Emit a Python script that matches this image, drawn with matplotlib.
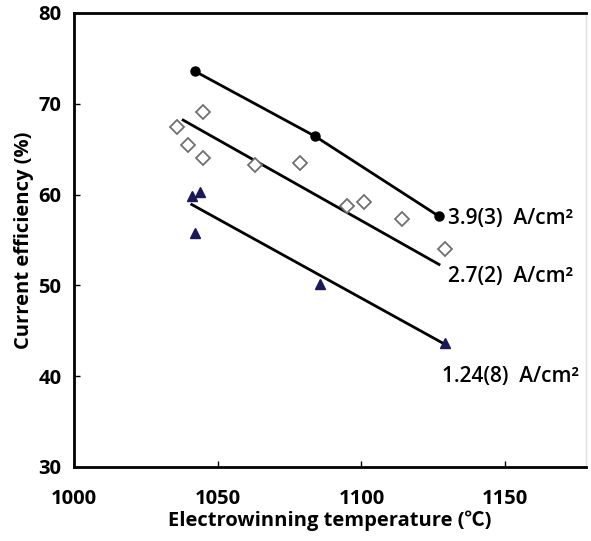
import numpy as np
import matplotlib.pyplot as plt

plt.rcParams['font.family'] = ['Open Sans', 'Noto Sans CJK KR', 'DejaVu Sans']

# 3.9(3) A/cm2 series (filled circles)
t_high = [1042, 1084, 1127]
ce_high = [73.6, 66.4, 57.6]

# 2.7(2) A/cm2 series (open diamonds)
t_mid = [1036, 1039.6, 1045, 1045, 1063, 1078.5, 1095, 1101, 1114, 1129]
ce_mid = [67.4, 65.5, 69.1, 64.0, 63.2, 63.5, 58.7, 59.2, 57.3, 54.0]
fit_mid_t = [1038, 1127]
fit_mid_ce = [68.2, 52.3]

# 1.24(8) A/cm2 series (filled triangles)
t_low = [1041, 1044, 1042, 1085.5, 1129]
ce_low = [59.8, 60.3, 55.8, 50.2, 43.6]
fit_low_t = [1041, 1128.5]
fit_low_ce = [58.9, 43.6]

labels = ['3.9(3)  A/cm²', '2.7(2)  A/cm²', '1.24(8)  A/cm²']
label_pos = [(1130, 57.4), (1130, 51.0), (1128, 40.0)]

fig = plt.figure(figsize=(5.91, 5.41), dpi=100)
ax = fig.add_axes([0.125, 0.137, 0.866, 0.839])

ax.plot(t_high, ce_high, color='black', lw=2, zorder=2)
ax.plot(t_high, ce_high, 'o', color='black', ms=6.5, zorder=3)

ax.plot(fit_mid_t, fit_mid_ce, color='black', lw=2, zorder=2)
ax.plot(t_mid, ce_mid, 'D', mfc='white', mec='#707070', mew=1.3, ms=7, zorder=3)

ax.plot(fit_low_t, fit_low_ce, color='black', lw=2, zorder=2)
ax.plot(t_low, ce_low, '^', color='#1a1a5a', ms=7, zorder=3)

for lab, (x, y) in zip(labels, label_pos):
    ax.text(x, y, lab, fontsize=15, fontweight='semibold', va='center', ha='left')

ax.set_xlim(1000, 1178)
ax.set_ylim(30, 80)
ax.set_xticks([1000, 1050, 1100, 1150])
ax.set_yticks([30, 40, 50, 60, 70, 80])
ax.tick_params(direction='in', length=4, width=1, labelsize=14.5)
ax.tick_params(axis='x', pad=16)
ax.tick_params(axis='y', pad=9)
for lab in ax.get_xticklabels() + ax.get_yticklabels():
    lab.set_fontweight('bold')

for s in ['left', 'bottom', 'top']:
    ax.spines[s].set_linewidth(2)
ax.spines['right'].set_color('#e0e0e0')
ax.spines['right'].set_linewidth(1)

ax.set_xlabel('Electrowinning temperature (℃)', fontsize=14.5, fontweight='bold', labelpad=1)
ax.set_ylabel('Current efficiency (%)', fontsize=14.5, fontweight='bold', labelpad=3)

fig.savefig('out.png', dpi=100)
